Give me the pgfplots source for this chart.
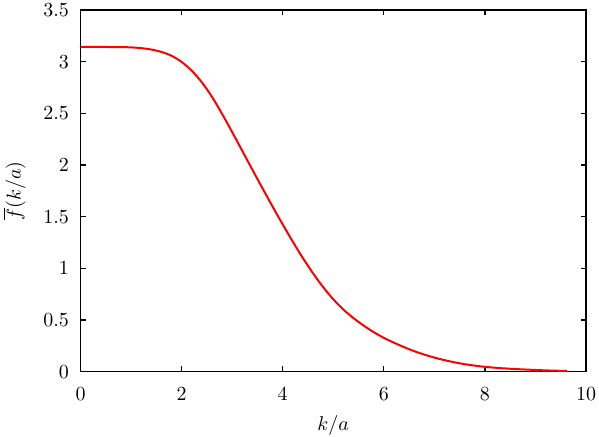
\documentclass[border=0pt]{standalone}
\usepackage{pgfplots}
\pgfplotsset{compat=1.18}

\begin{document}
\begin{tikzpicture}
\begin{axis}[
    name=ax,
    scale only axis,
    width=253pt,
    height=181pt,
    xmin=0, xmax=10,
    ymin=0, ymax=3.5,
    xtick={0,2,4,6,8,10},
    ytick={0,0.5,1,1.5,2,2.5,3,3.5},
    tick pos=both,
    tick align=inside,
    major tick length=2.7pt,
    axis line style={line width=0.6pt},
    every tick/.style={black, line width=0.6pt},
    xticklabel style={yshift=-4.5pt},
    yticklabel style={xshift=-2.3pt},
    xlabel={$k/a$},
    ylabel={$\overline{f}(k/a)$},
    xlabel style={yshift=-0.5pt},
    ylabel style={yshift=2pt},
]
\addplot [red, line width=1pt, smooth] coordinates {
    (0, 3.142) (0.4, 3.142) (0.8, 3.141) (1.0, 3.138) (1.2, 3.131)
    (1.4, 3.117) (1.6, 3.094) (1.8, 3.057) (2.0, 2.997) (2.2, 2.912)
    (2.4, 2.800) (2.6, 2.660) (2.8, 2.495) (3.0, 2.318) (3.2, 2.136)
    (3.4, 1.954) (3.6, 1.774) (3.8, 1.597) (4.0, 1.424) (4.2, 1.257)
    (4.4, 1.098) (4.6, 0.951) (4.8, 0.818) (5.0, 0.700) (5.2, 0.601)
    (5.4, 0.518) (5.6, 0.446) (5.8, 0.382) (6.0, 0.327) (6.2, 0.280)
    (6.4, 0.237) (6.6, 0.198) (6.8, 0.165) (7.0, 0.136) (7.2, 0.111)
    (7.4, 0.090) (7.6, 0.072) (7.8, 0.058) (8.0, 0.046) (8.3, 0.034)
    (8.6, 0.025) (8.9, 0.018) (9.2, 0.012) (9.62, 0.006)
};
\end{axis}
\pgfresetboundingbox
\useasboundingbox ([shift={(-40.3pt,-32.3pt)}]ax.south west) rectangle ([shift={(6.5pt,5pt)}]ax.north east);
\end{tikzpicture}
\end{document}
